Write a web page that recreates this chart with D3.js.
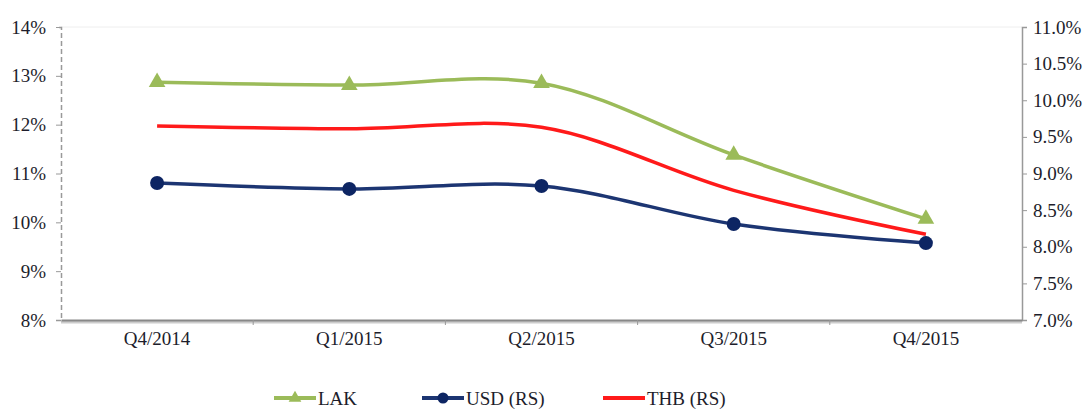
<!DOCTYPE html>
<html>
<head>
<meta charset="utf-8">
<script src="https://cdn.jsdelivr.net/npm/d3@7"></script>
<style>
  body { margin: 0; background: #fff; }
  svg text { font-family: "Liberation Serif", "Times New Roman", serif !important; fill: #1d1d2b; }
</style>
</head>
<body>
<div id="chart"></div>
<script>
// data
var quarters = ["Q4/2014", "Q1/2015", "Q2/2015", "Q3/2015", "Q4/2015"];
var lak = [12.87, 12.81, 12.85, 11.38, 10.07];      // left scale
var usd = [8.87, 8.79, 8.83, 8.31, 8.05];           // right scale
var thb = [9.65, 9.61, 9.63, 8.77, 8.17];           // right scale
var leftTicks = [8, 9, 10, 11, 12, 13, 14];
var rightTicks = [7.0, 7.5, 8.0, 8.5, 9.0, 9.5, 10.0, 10.5, 11.0];

var W = 1084, H = 410;
var margin = {top: 27, right: 62, bottom: 90, left: 61},
    width = W - margin.left - margin.right,
    height = H - margin.top - margin.bottom;

var svg = d3.select("#chart")
  .append("svg")
    .attr("width", W)
    .attr("height", H)
  .append("g")
    .attr("transform", "translate(" + margin.left + "," + margin.top + ")");

var x = d3.scaleBand().domain(quarters).range([0, width]);
var yL = d3.scaleLinear().domain([8, 14]).range([height, 0]);
var yR = d3.scaleLinear().domain([7, 11]).range([height, 0]);

// faint top border
svg.append("line")
  .attr("x1", 0).attr("x2", width).attr("y1", 0).attr("y2", 0)
  .attr("stroke", "#eee").attr("stroke-width", 1);

// left axis (dashed)
var gL = svg.append("g").call(d3.axisLeft(yL).tickValues(leftTicks).tickSize(5).tickFormat(function(d) { return d + "%"; }));
gL.select(".domain").attr("stroke", "#999").attr("stroke-width", 1.5).attr("stroke-dasharray", "5,3");
gL.selectAll(".tick line").attr("stroke", "#999");
gL.selectAll("text").style("font-size", "19px").attr("x", -15);

// right axis
var gR = svg.append("g")
  .attr("transform", "translate(" + width + ",0)")
  .call(d3.axisRight(yR).tickValues(rightTicks).tickSize(5).tickFormat(function(d) { return d.toFixed(1) + "%"; }));
gR.select(".domain").attr("stroke", "#999").attr("stroke-width", 1.5);
gR.selectAll(".tick line").attr("stroke", "#999");
gR.selectAll("text").style("font-size", "19px").attr("x", 11);

// bottom axis
var gB = svg.append("g")
  .attr("transform", "translate(0," + height + ")");
gB.append("line")
  .attr("x1", 0).attr("x2", width).attr("y1", 2).attr("y2", 2)
  .attr("stroke", "#ccc").attr("stroke-width", 3);
gB.call(d3.axisBottom(x).tickSize(0).tickPadding(12));
gB.select(".domain").attr("stroke", "#888").attr("stroke-width", 2);
gB.selectAll("text").style("font-size", "19px");
gB.selectAll(".edge")
  .data(quarters.slice(1))
  .enter().append("line")
    .attr("x1", function(d) { return x(d); })
    .attr("x2", function(d) { return x(d); })
    .attr("y1", 0).attr("y2", 5)
    .attr("stroke", "#999");

var cx = function(i) { return x(quarters[i]) + x.bandwidth() / 2; };

function drawLine(vals, yScale, color) {
  var line = d3.line()
    .x(function(d, i) { return cx(i); })
    .y(function(d) { return yScale(d); })
    .curve(d3.curveCatmullRom.alpha(0.5));
  svg.append("path")
    .datum(vals)
    .attr("fill", "none")
    .attr("stroke", color)
    .attr("stroke-width", 3.5)
    .attr("stroke-linejoin", "round")
    .attr("d", line);
}

drawLine(thb, yR, "#ff1a1a");
drawLine(usd, yR, "#1c3572");
drawLine(lak, yL, "#9bbb59");

// markers
var tri = d3.symbol().type(d3.symbolTriangle).size(120);
svg.selectAll(".lakpt")
  .data(lak)
  .enter().append("path")
    .attr("d", tri)
    .attr("transform", function(d, i) { return "translate(" + cx(i) + "," + yL(d) + ")"; })
    .attr("fill", "#9bbb59");

svg.selectAll(".usdpt")
  .data(usd)
  .enter().append("circle")
    .attr("cx", function(d, i) { return cx(i); })
    .attr("cy", function(d) { return yR(d); })
    .attr("r", 7)
    .attr("fill", "#0d2563");

// legend
var legend = d3.select("svg").append("g");
var items = [
  {name: "LAK", color: "#9bbb59", mark: "tri", x: 274},
  {name: "USD (RS)", color: "#1c3572", mark: "circle", x: 422},
  {name: "THB (RS)", color: "#ff1a1a", mark: "none", x: 603}
];
var ly = 398;
items.forEach(function(it) {
  legend.append("line")
    .attr("x1", it.x).attr("x2", it.x + 42)
    .attr("y1", ly).attr("y2", ly)
    .attr("stroke", it.color).attr("stroke-width", 4);
  if (it.mark === "tri") {
    legend.append("path")
      .attr("d", d3.symbol().type(d3.symbolTriangle).size(70))
      .attr("transform", "translate(" + (it.x + 21) + "," + ly + ")")
      .attr("fill", it.color);
  } else if (it.mark === "circle") {
    legend.append("circle")
      .attr("cx", it.x + 21).attr("cy", ly).attr("r", 5.5)
      .attr("fill", "#0d2563");
  }
  legend.append("text")
    .attr("x", it.x + 44).attr("y", ly + 7)
    .style("font-size", "19px")
    .text(it.name);
});
</script>
</body>
</html>
